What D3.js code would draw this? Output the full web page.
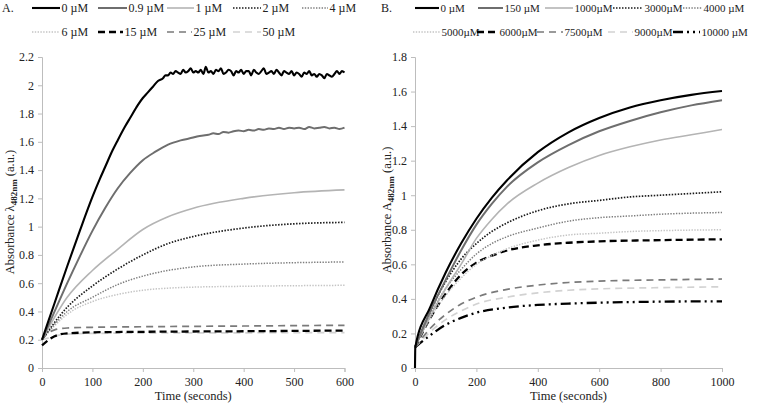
<!DOCTYPE html>
<html><head><meta charset="utf-8">
<script src="https://cdn.jsdelivr.net/npm/d3@7"></script>
<style>
body{margin:0;background:#fff}
svg{display:block;font-family:"Liberation Serif","Times New Roman",serif}
</style>
</head><body>
<svg id="c" width="760" height="406"></svg>
<script>
// ================= DATA =================
// Panel A (time 0-600 s)
const aTicksX = [0,100,200,300,400,500,600];
const aTicksY = [0,0.2,0.4,0.6,0.8,1,1.2,1.4,1.6,1.8,2,2.2];
const aLabels = ["0 µM","0.9 µM","1 µM","2 µM","4 µM","6 µM","15 µM","25 µM","50 µM"];
const aStyles = ["k","g","lg","kDot","gDot","lgDot","kDash","gDash","lgDash"];

const a0Rise = [[0,0.20],[25,0.46],[50,0.72],[75,0.97],[100,1.21],[115,1.34],[125,1.42],[140,1.54],[150,1.61],[165,1.71],[175,1.77],[190,1.86],[200,1.91],[210,1.95],[220,1.99],[230,2.03],[240,2.05],[245,2.07]];
// 0 µM plateau, one reading every 5 s from 250 s to 600 s
const a0Plateau = [2.07,2.09,2.08,2.10,2.09,2.08,2.11,2.09,2.10,2.12,
 2.09,2.10,2.09,2.11,2.08,2.13,2.09,2.10,2.08,2.11,
 2.10,2.12,2.08,2.09,2.11,2.10,2.07,2.10,2.09,2.11,
 2.08,2.10,2.10,2.07,2.11,2.09,2.08,2.10,2.12,2.08,
 2.09,2.10,2.08,2.11,2.09,2.07,2.10,2.09,2.08,2.10,
 2.07,2.09,2.08,2.06,2.09,2.08,2.10,2.07,2.08,2.06,
 2.08,2.07,2.05,2.08,2.07,2.06,2.08,2.10,2.08,2.10,
 2.09];
const a09 = [[0,0.20],[25,0.40],[50,0.60],[75,0.79],[100,0.97],[125,1.13],[150,1.27],[175,1.38],[200,1.47],[225,1.53],[250,1.58],[275,1.61],[300,1.63],
 [310,1.64],[320,1.645],[330,1.65],[340,1.66],[350,1.655],[360,1.67],[370,1.665],[380,1.675],[390,1.68],[400,1.675],[410,1.685],[420,1.68],[430,1.69],[440,1.685],[450,1.695],[460,1.69],[470,1.70],[480,1.69],[490,1.70],[500,1.695],[510,1.70],[520,1.69],[530,1.705],[540,1.695],[550,1.70],[560,1.705],[570,1.695],[580,1.70],[590,1.69],[600,1.70]];
const a1 = [[0,0.20],[50,0.50],[100,0.69],[150,0.84],[200,0.98],[250,1.07],[300,1.13],[400,1.20],[500,1.24],[600,1.26]];
const a2 = [[0,0.20],[50,0.43],[100,0.58],[150,0.70],[200,0.80],[250,0.88],[300,0.93],[400,0.99],[500,1.02],[600,1.03]];
const a4 = [[0,0.20],[50,0.40],[100,0.50],[150,0.59],[200,0.65],[250,0.69],[300,0.715],[400,0.735],[500,0.745],[600,0.75]];
const a6 = [[0,0.20],[50,0.38],[100,0.47],[150,0.52],[200,0.55],[250,0.565],[300,0.572],[400,0.578],[600,0.585]];
const a15 = [[0,0.16],[10,0.19],[25,0.225],[50,0.245],[100,0.252],[200,0.256],[400,0.26],[600,0.265]];
const a25 = [[0,0.20],[10,0.24],[25,0.27],[50,0.283],[100,0.288],[200,0.292],[400,0.297],[600,0.302]];
const a50 = [[0,0.20],[10,0.21],[25,0.225],[50,0.24],[100,0.245],[200,0.247],[600,0.25]];

// Panel B (time 0-1000 s)
const bTicksX = [0,200,400,600,800,1000];
const bTicksY = [0,0.2,0.4,0.6,0.8,1,1.2,1.4,1.6,1.8];
const bLabels = ["0 µM","150 µM","1000µM","3000µM","4000 µM","5000µM","6000µM","7500µM","9000µM","10000 µM"];
const bStyles = ["k","g","lg","kDot","gDot","lgDot","kDash","gDash","lgDash","kDashDot"];

const b0 = [[0,0],[1,0.12],[50,0.354],[100,0.553],[150,0.72],[200,0.864],[250,0.985],[300,1.087],[400,1.249],[500,1.364],[600,1.447],[700,1.508],[800,1.55],[900,1.581],[1000,1.603]];
const b150 = [[0,0.12],[50,0.33],[100,0.51],[150,0.68],[200,0.83],[250,0.95],[300,1.05],[400,1.19],[500,1.29],[600,1.37],[700,1.43],[800,1.48],[900,1.52],[1000,1.55]];
const b1000 = [[0,0.12],[50,0.30],[100,0.46],[150,0.60],[200,0.75],[250,0.86],[300,0.95],[400,1.07],[500,1.16],[600,1.23],[700,1.28],[800,1.32],[900,1.35],[1000,1.38]];
const b3000 = [[0,0.12],[50,0.33],[100,0.50],[150,0.63],[200,0.72],[250,0.79],[300,0.84],[400,0.91],[500,0.95],[600,0.97],[700,0.99],[800,1.00],[900,1.01],[1000,1.02]];
const b4000 = [[0,0.12],[50,0.31],[100,0.46],[150,0.57],[200,0.66],[250,0.72],[300,0.76],[400,0.81],[500,0.85],[600,0.87],[700,0.88],[800,0.89],[1000,0.90]];
const b5000 = [[0,0.12],[50,0.29],[100,0.42],[150,0.52],[200,0.60],[250,0.65],[300,0.69],[400,0.74],[500,0.77],[600,0.78],[700,0.79],[800,0.795],[1000,0.80]];
const b6000 = [[0,0.12],[50,0.29],[100,0.43],[150,0.54],[200,0.61],[250,0.65],[300,0.68],[400,0.71],[500,0.725],[600,0.733],[800,0.74],[1000,0.745]];
const b7500 = [[0,0.12],[50,0.23],[100,0.31],[150,0.37],[200,0.41],[300,0.455],[400,0.48],[500,0.495],[600,0.503],[800,0.51],[1000,0.515]];
const b9000 = [[0,0.12],[50,0.21],[100,0.28],[150,0.33],[200,0.37],[300,0.41],[400,0.435],[500,0.45],[600,0.458],[800,0.465],[1000,0.47]];
const b10000 = [[0,0.12],[50,0.19],[100,0.25],[150,0.29],[200,0.32],[300,0.35],[400,0.365],[500,0.373],[600,0.378],[800,0.384],[1000,0.386]];

// ================= STYLES =================
const styles = {
  k:{c:"#000",w:2.1,d:null},
  g:{c:"#6e6e6e",w:2,d:null},
  lg:{c:"#b4b4b4",w:1.6,d:null},
  kDot:{c:"#1a1a1a",w:1.7,d:"1.5,1.5"},
  gDot:{c:"#7e7e7e",w:1.5,d:"1.4,1.4"},
  lgDot:{c:"#c4c4c4",w:1.5,d:"1.4,1.4"},
  kDash:{c:"#000",w:2.3,d:"7,4"},
  gDash:{c:"#7a7a7a",w:1.7,d:"7,5"},
  lgDash:{c:"#d2d2d2",w:1.7,d:"7,5"},
  kDashDot:{c:"#000",w:2.3,d:"10,4,2,4,2,4"}
};

const svg = d3.select("#c");
const axisCol = "#bdbdbd";
const fs = 12;

const a0 = a0Rise.concat(a0Plateau.map((v,i)=>[250+5*i, v]));
const seriesA = [a0,a09,a1,a2,a4,a6,a15,a25,a50];
const seriesB = [b0,b150,b1000,b3000,b4000,b5000,b6000,b7500,b9000,b10000];

function panel(cfg){
  const x = d3.scaleLinear().domain(cfg.xd).range(cfg.xr);
  const y = d3.scaleLinear().domain(cfg.yd).range(cfg.yr);
  const g = svg.append("g");
  const ax = g.append("g").attr("transform",`translate(0,${cfg.yr[0]})`)
    .call(d3.axisBottom(x).tickValues(cfg.tx).tickSizeOuter(0).tickSize(4).tickFormat(d=>String(d)));
  const ay = g.append("g").attr("transform",`translate(${cfg.xr[0]},0)`)
    .call(d3.axisLeft(y).tickValues(cfg.ty).tickSizeOuter(0).tickSize(4).tickPadding(4).tickFormat(d=>String(d)));
  [ax,ay].forEach(a=>{
    a.select(".domain").attr("stroke",axisCol);
    a.selectAll(".tick line").attr("stroke",axisCol);
    a.selectAll(".tick text").attr("fill","#222").style("font-size",fs+"px").style("font-family","Liberation Serif");
  });
  ax.selectAll(".tick text").attr("dy","0.95em");
  const line = d3.line().x(d=>x(d[0])).y(d=>y(d[1])).curve(d3.curveMonotoneX);
  cfg.series.map((s,i)=>i).reverse().forEach(i=>{
    const st = styles[cfg.styles[i]];
    g.append("path").datum(cfg.series[i]).attr("d",line)
      .attr("fill","none").attr("stroke",st.c).attr("stroke-width",st.w)
      .attr("stroke-dasharray",st.d).attr("stroke-linejoin","round");
  });
  g.append("text").attr("x",(cfg.xr[0]+cfg.xr[1])/2).attr("y",400).attr("text-anchor","middle")
    .style("font-size","12.5px").attr("fill","#222").text("Time (seconds)");
  const yl = g.append("text").attr("transform",`translate(${cfg.ylx},${cfg.yly}) rotate(-90)`)
    .attr("text-anchor","middle").style("font-size","12.5px").attr("fill","#222");
  yl.append("tspan").text("Absorbance "+cfg.sym);
  yl.append("tspan").attr("dy","3").style("font-size","9px").style("font-weight","bold").text("482nm");
  yl.append("tspan").attr("dy","-3").text(" (a.u.)");
  svg.append("text").attr("x",cfg.letterX).attr("y",12).style("font-size","12px").attr("fill","#222").text(cfg.letter);
  cfg.legendPos.forEach((p,i)=>{
    const st = styles[cfg.styles[i]];
    const yy = p[2]===0 ? 8 : 32;
    svg.append("line").attr("x1",p[0]).attr("x2",p[1]).attr("y1",yy).attr("y2",yy)
      .attr("stroke",st.c).attr("stroke-width",st.w).attr("stroke-dasharray",st.d);
    svg.append("text").attr("x",p[1]+1.5).attr("y",yy+4).style("font-size",cfg.lfs+"px").attr("fill","#222").text(cfg.labels[i]);
  });
}

panel({
  xd:[0,600], xr:[42,344.5], yd:[0,2.2], yr:[368,57],
  tx:aTicksX, ty:aTicksY, series:seriesA, styles:aStyles, labels:aLabels,
  ylx:14, yly:212, sym:"λ", letter:"A.", letterX:2, lfs:12,
  legendPos:[[32,60,0],[98,127,0],[167,194,0],[233,261,0],[302,328,0],
             [32,60,1],[98,123,1],[167,192,1],[233,261,1]]
});
panel({
  xd:[0,1000], xr:[415,722], yd:[0,1.8], yr:[368,57],
  tx:bTicksX, ty:bTicksY, series:seriesB, styles:bStyles, labels:bLabels,
  ylx:391, yly:210, sym:"A", letter:"B.", letterX:381, lfs:11,
  legendPos:[[415,439,0],[478,503,0],[545,573,0],[613,643,0],[683,702,0],
             [413,440,1],[477,498,1],[537,563,1],[608,633,1],[673,700,1]]
});
</script>
</body></html>
